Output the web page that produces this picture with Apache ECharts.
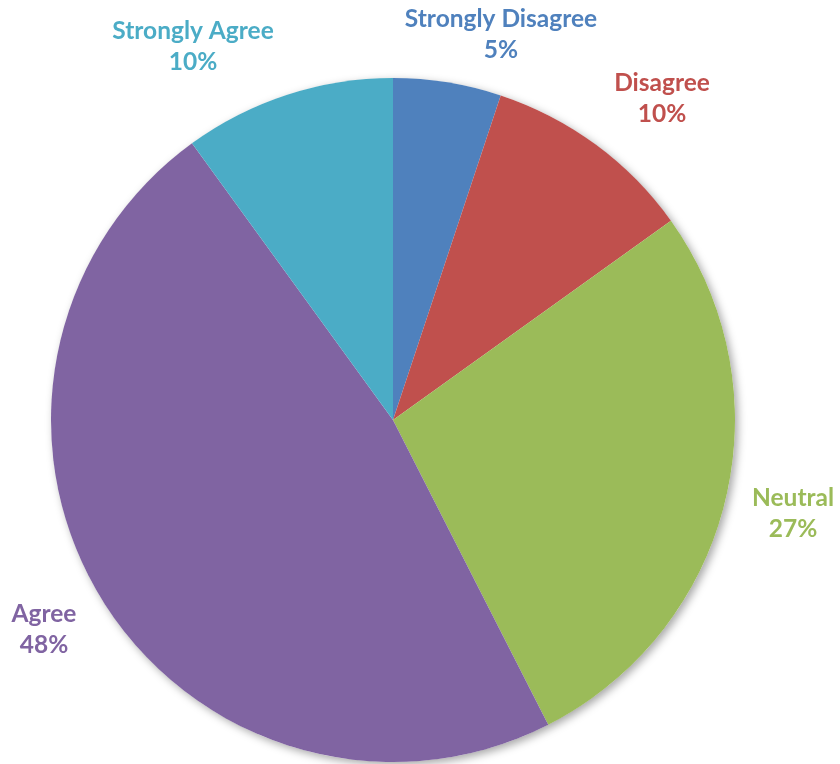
<!DOCTYPE html>
<html>
<head>
<meta charset="utf-8">
<script src="https://cdn.jsdelivr.net/npm/echarts@6/dist/echarts.min.js"></script>
<style>
html,body{margin:0;padding:0;background:#fff;}
#c{width:840px;height:764px;}
</style>
</head>
<body>
<div id="c"></div>
<script>
// Data
const categories = ['Strongly Disagree', 'Disagree', 'Neutral', 'Agree', 'Strongly Agree'];
const values = [5.1, 10, 27.4, 47.5, 10];
const colors = ['#4F81BD', '#C0504D', '#9BBB59', '#8064A2', '#4BACC6'];

// Label anchor positions (layout only)
const labelAnchors = [[501, 35], [662, 99], [793, 514], [44, 630], [193, 47]];

const chart = echarts.init(document.getElementById('c'), null, {renderer: 'canvas'});
const total = values.reduce((a, b) => a + b, 0);

chart.setOption({
  animation: false,
  backgroundColor: '#ffffff',
  series: [
    {
      type: 'pie',
      silent: true,
      z: 1,
      center: [393, 420],
      radius: [0, 342],
      label: {show: false},
      labelLine: {show: false},
      itemStyle: {
        color: '#ffffff',
        shadowBlur: 8,
        shadowColor: 'rgba(0,0,0,0.35)',
        shadowOffsetX: 3,
        shadowOffsetY: 3
      },
      data: [{name: 'all', value: total}]
    },
    {
      type: 'pie',
      z: 2,
      center: [393, 420],
      radius: [0, 342],
      startAngle: 90,
      clockwise: true,
      avoidLabelOverlap: false,
      itemStyle: {borderWidth: 0},
      label: {
        show: true,
        position: 'outside',
        fontFamily: 'Lato',
        fontWeight: 'bold',
        fontSize: 24.5,
        lineHeight: 31,
        formatter: p => p.name + '\n' + Math.round(p.value / total * 100) + '%'
      },
      labelLine: {show: false},
      labelLayout: p => ({
        x: labelAnchors[p.dataIndex][0],
        y: labelAnchors[p.dataIndex][1],
        align: 'center',
        verticalAlign: 'middle'
      }),
      data: categories.map((c, i) => ({
        name: c,
        value: values[i],
        itemStyle: {color: colors[i]},
        label: {color: colors[i]}
      }))
    }
  ]
});
</script>
</body>
</html>
